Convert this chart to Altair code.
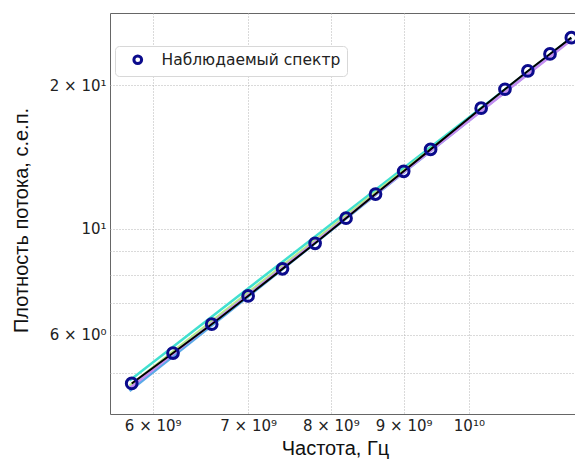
import altair as alt
import pandas as pd

# Observed spectrum (frequency in GHz, flux density in s.f.u.)
freq_ghz = [5.8, 6.2, 6.6, 7.0, 7.4, 7.8, 8.2, 8.6, 9.0, 9.4, 10.2, 10.6, 11.0, 11.4, 11.8]
flux = [4.75, 5.50, 6.32, 7.24, 8.25, 9.33, 10.53, 11.83, 13.20, 14.67, 17.89, 19.60, 21.41, 23.23, 25.13]

# Fit lines (end points)
fit_freq_ghz = [5.78, 11.8]
fit_turquoise = [4.82, 25.10]
fit_green = [4.70, 25.00]
fit_blue = [4.58, 24.95]
fit_violet = [4.64, 24.85]

legend_label = "Наблюдаемый спектр"
x_ticks = [6e9, 7e9, 8e9, 9e9, 1e10]
y_ticks = [5, 6, 7, 8, 9, 10, 20]

obs = pd.DataFrame({"f": [v * 1e9 for v in freq_ghz], "s": flux, "lbl": legend_label})

xscale = alt.Scale(type="log", domain=[5.6e9, 1.187e10], nice=False)
yscale = alt.Scale(type="log", domain=[4.1, 28.3], nice=False)

x_axis = alt.Axis(
    values=x_ticks,
    labelExpr="datum.value >= 9.9e9 ? '10¹⁰' : round(datum.value/1e9) + ' × 10⁹'",
    title="Частота, Гц",
    titleX=225, titleY=40, titleBaseline="alphabetic",
)
y_axis = alt.Axis(
    values=y_ticks,
    labelExpr="datum.value == 20 ? '2 × 10¹' : datum.value == 10 ? '10¹' : datum.value == 6 ? '6 × 10⁰' : ''",
    title="Плотность потока, с.е.п.",
    titleX=-83, titleY=207, titleBaseline="alphabetic", titleAngle=-90,
)


def fit_layer(vals, color, width=2.5):
    df = pd.DataFrame({"f": [v * 1e9 for v in fit_freq_ghz], "s": vals})
    return alt.Chart(df).mark_line(color=color, strokeWidth=width).encode(
        x=alt.X("f:Q", scale=xscale, axis=x_axis),
        y=alt.Y("s:Q", scale=yscale, axis=y_axis),
    )


black = alt.Chart(obs).mark_line(color="black", strokeWidth=2).encode(
    x=alt.X("f:Q", scale=xscale, axis=x_axis),
    y=alt.Y("s:Q", scale=yscale, axis=y_axis),
)

points = alt.Chart(obs).mark_point(
    shape="circle", filled=False, size=115, strokeWidth=3, opacity=1
).encode(
    x=alt.X("f:Q", scale=xscale, axis=x_axis),
    y=alt.Y("s:Q", scale=yscale, axis=y_axis),
    color=alt.Color(
        "lbl:N",
        scale=alt.Scale(domain=[legend_label], range=["#0b0b8c"]),
        legend=alt.Legend(
            title=None, orient="none", legendX=5, legendY=33,
            symbolType="circle", symbolSize=60, symbolStrokeWidth=3,
            symbolFillColor="white", labelFont="DejaVu Sans", labelFontSize=15.5,
            labelColor="#222", labelLimit=400, padding=6, strokeColor="#d8d8d8",
            fillColor="white", cornerRadius=4, symbolOffset=9, labelOffset=16,
        ),
    ),
)

chart = alt.layer(
    fit_layer(fit_turquoise, "#40e0d0"),
    fit_layer(fit_green, "#b8e986"),
    fit_layer(fit_blue, "#5aaae8"),
    fit_layer(fit_violet, "#c58cf0"),
    black,
    points,
).properties(
    width=465, height=401,
    autosize=alt.AutoSizeParams(type="none"),
    padding={"left": 102, "top": 5, "right": 0, "bottom": 47},
).configure_view(
    stroke="#666666", strokeWidth=1
).configure_axis(
    grid=True, gridColor="#b5b5b5", gridDash=[1, 2], gridWidth=1,
    domain=False, ticks=False,
    labelFont="DejaVu Sans", labelFontSize=15, labelColor="#222222", labelPadding=4,
    titleFont="Liberation Sans", titleFontSize=20, titleFontWeight="normal", titleColor="#111111",
)

chart.save("out.html", embed_options={"renderer": "svg", "actions": False})
